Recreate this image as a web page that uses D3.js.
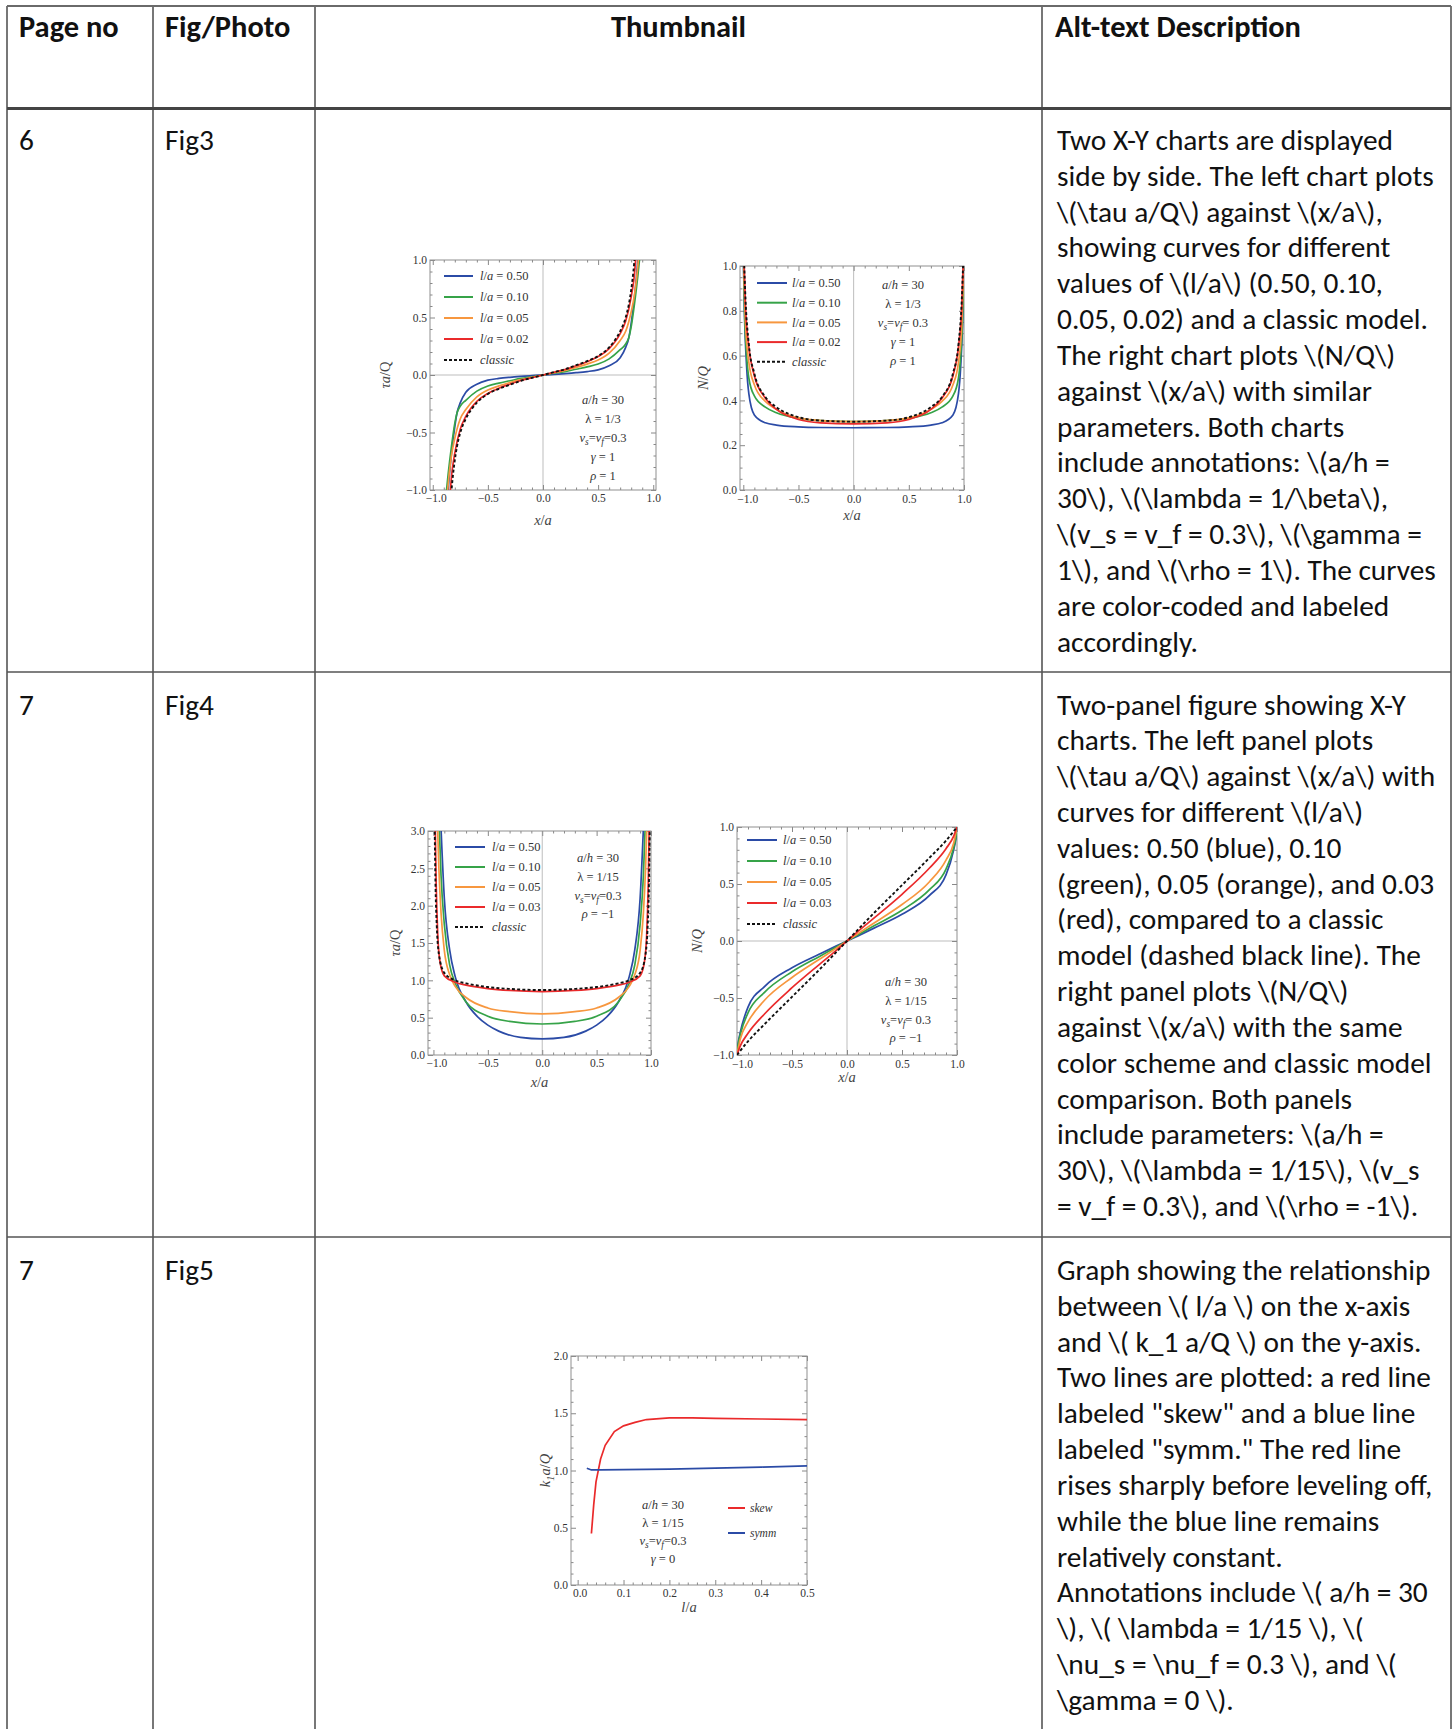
<!DOCTYPE html>
<html>
<head>
<meta charset="utf-8">
<script src="https://cdn.jsdelivr.net/npm/d3@7"></script>
<style>
  body { margin: 0; background: #fff; }
</style>
</head>
<body>
<script>
// ---- table text ----
const headers = ["Page no", "Fig/Photo", "Thumbnail", "Alt-text Description"];
const pageNos = ["6", "7", "7"];
const figNames = ["Fig3", "Fig4", "Fig5"];

const altFig3 = [
  "Two X-Y charts are displayed",
  "side by side. The left chart plots",
  "\\(\\tau a/Q\\) against \\(x/a\\),",
  "showing curves for different",
  "values of \\(l/a\\) (0.50, 0.10,",
  "0.05, 0.02) and a classic model.",
  "The right chart plots \\(N/Q\\)",
  "against \\(x/a\\) with similar",
  "parameters. Both charts",
  "include annotations: \\(a/h =",
  "30\\), \\(\\lambda = 1/\\beta\\),",
  "\\(v_s = v_f = 0.3\\), \\(\\gamma =",
  "1\\), and \\(\\rho = 1\\). The curves",
  "are color-coded and labeled",
  "accordingly."
];
const altFig4 = [
  "Two-panel figure showing X-Y",
  "charts. The left panel plots",
  "\\(\\tau a/Q\\) against \\(x/a\\) with",
  "curves for different \\(l/a\\)",
  "values: 0.50 (blue), 0.10",
  "(green), 0.05 (orange), and 0.03",
  "(red), compared to a classic",
  "model (dashed black line). The",
  "right panel plots \\(N/Q\\)",
  "against \\(x/a\\) with the same",
  "color scheme and classic model",
  "comparison. Both panels",
  "include parameters: \\(a/h =",
  "30\\), \\(\\lambda = 1/15\\), \\(v_s",
  "= v_f = 0.3\\), and \\(\\rho = -1\\)."
];
const altFig5 = [
  "Graph showing the relationship",
  "between \\( l/a \\) on the x-axis",
  "and \\( k_1 a/Q \\) on the y-axis.",
  "Two lines are plotted: a red line",
  "labeled \"skew\" and a blue line",
  "labeled \"symm.\" The red line",
  "rises sharply before leveling off,",
  "while the blue line remains",
  "relatively constant.",
  "Annotations include \\( a/h = 30",
  "\\), \\( \\lambda = 1/15 \\), \\(",
  "\\nu_s = \\nu_f = 0.3 \\), and \\(",
  "\\gamma = 0 \\)."
];

// ---- chart data ----
const fig3Values = ["0.50", "0.10", "0.05", "0.02"];
const fig4Values = ["0.50", "0.10", "0.05", "0.03"];
const seriesColors = ["#2b4ba6", "#36a348", "#f7973f", "#ea2a2b"];
const ticksPM1 = [-1, -0.5, 0, 0.5, 1];
const ticks0to1 = [0, 0.2, 0.4, 0.6, 0.8, 1];
const ticks0to3 = [0, 0.5, 1, 1.5, 2, 2.5, 3];
const ticksLa = [0, 0.1, 0.2, 0.3, 0.4, 0.5];
const ticks0to2 = [0, 0.5, 1, 1.5, 2];

// Fig3 left: tau a/Q vs x/a
const tau3L_050 = [[-0.87,-1.1],[-0.86,-1.0],[-0.85,-0.88],[-0.83,-0.68],[-0.8,-0.45],[-0.78,-0.33],[-0.75,-0.24],[-0.7,-0.15],[-0.6,-0.08],[-0.5,-0.045],[-0.4,-0.03],[-0.3,-0.02],[-0.2,-0.012],[-0.1,-0.005],[0,0],[0.1,0.005],[0.2,0.012],[0.3,0.02],[0.4,0.03],[0.5,0.045],[0.6,0.08],[0.7,0.15],[0.75,0.24],[0.78,0.33],[0.8,0.45],[0.83,0.68],[0.85,0.88],[0.86,1.0],[0.87,1.1]];
const tau3L_010 = [[-0.885,-1.1],[-0.875,-1.0],[-0.86,-0.86],[-0.83,-0.62],[-0.8,-0.42],[-0.78,-0.33],[-0.75,-0.27],[-0.7,-0.22],[-0.6,-0.14],[-0.5,-0.095],[-0.4,-0.07],[-0.3,-0.05],[-0.2,-0.03],[-0.1,-0.015],[0,0],[0.1,0.015],[0.2,0.03],[0.3,0.05],[0.4,0.07],[0.5,0.095],[0.6,0.14],[0.7,0.22],[0.75,0.27],[0.78,0.33],[0.8,0.42],[0.83,0.62],[0.86,0.86],[0.875,1.0],[0.885,1.1]];
const tau3L_005 = [[-0.875,-1.1],[-0.865,-1.0],[-0.85,-0.85],[-0.83,-0.7],[-0.8,-0.55],[-0.75,-0.38],[-0.7,-0.3],[-0.6,-0.19],[-0.5,-0.13],[-0.4,-0.095],[-0.3,-0.065],[-0.2,-0.04],[-0.1,-0.02],[0,0],[0.1,0.02],[0.2,0.04],[0.3,0.065],[0.4,0.095],[0.5,0.13],[0.6,0.19],[0.7,0.3],[0.75,0.38],[0.8,0.55],[0.83,0.7],[0.85,0.85],[0.865,1.0],[0.875,1.1]];
const tau3L_002 = [[-0.85,-1.1],[-0.84,-1.0],[-0.83,-0.88],[-0.8,-0.68],[-0.75,-0.47],[-0.7,-0.36],[-0.6,-0.23],[-0.5,-0.16],[-0.4,-0.115],[-0.3,-0.08],[-0.2,-0.048],[-0.1,-0.024],[0,0],[0.1,0.024],[0.2,0.048],[0.3,0.08],[0.4,0.115],[0.5,0.16],[0.6,0.23],[0.7,0.36],[0.75,0.47],[0.8,0.68],[0.83,0.88],[0.84,1.0],[0.85,1.1]];
const tau3L_classic = [[-0.845,-1.12],[-0.83,-1.0],[-0.82,-0.9],[-0.8,-0.74],[-0.78,-0.62],[-0.75,-0.5],[-0.7,-0.38],[-0.65,-0.3],[-0.6,-0.24],[-0.5,-0.165],[-0.4,-0.12],[-0.3,-0.085],[-0.2,-0.05],[-0.1,-0.025],[0,0],[0.1,0.025],[0.2,0.05],[0.3,0.085],[0.4,0.12],[0.5,0.165],[0.6,0.24],[0.65,0.3],[0.7,0.38],[0.75,0.5],[0.78,0.62],[0.8,0.74],[0.82,0.9],[0.83,1.0],[0.845,1.12]];

// Fig3 right: N/Q vs x/a
const N3R_050 = [[-0.998,1.0],[-0.99,0.8],[-0.97,0.55],[-0.95,0.43],[-0.9,0.335],[-0.8,0.3],[-0.7,0.29],[-0.5,0.282],[-0.3,0.279],[0,0.278],[0.3,0.279],[0.5,0.282],[0.7,0.29],[0.8,0.3],[0.9,0.335],[0.95,0.43],[0.97,0.55],[0.99,0.8],[0.998,1.0]];
const N3R_010 = [[-0.997,1.0],[-0.99,0.82],[-0.97,0.6],[-0.95,0.5],[-0.9,0.42],[-0.8,0.37],[-0.7,0.345],[-0.5,0.32],[-0.3,0.31],[0,0.305],[0.3,0.31],[0.5,0.32],[0.7,0.345],[0.8,0.37],[0.9,0.42],[0.95,0.5],[0.97,0.6],[0.99,0.82],[0.997,1.0]];
const N3R_005 = [[-0.996,1.02],[-0.98,0.74],[-0.95,0.57],[-0.9,0.47],[-0.8,0.395],[-0.7,0.36],[-0.5,0.322],[-0.3,0.31],[0,0.305],[0.3,0.31],[0.5,0.322],[0.7,0.36],[0.8,0.395],[0.9,0.47],[0.95,0.57],[0.98,0.74],[0.996,1.02]];
const N3R_002 = [[-0.995,1.05],[-0.98,0.82],[-0.95,0.64],[-0.9,0.51],[-0.8,0.41],[-0.7,0.36],[-0.5,0.315],[-0.3,0.3],[0,0.295],[0.3,0.3],[0.5,0.315],[0.7,0.36],[0.8,0.41],[0.9,0.51],[0.95,0.64],[0.98,0.82],[0.995,1.05]];
const N3R_classic = [[-0.995,1.05],[-0.98,0.85],[-0.95,0.65],[-0.9,0.52],[-0.8,0.415],[-0.7,0.37],[-0.5,0.325],[-0.3,0.31],[0,0.305],[0.3,0.31],[0.5,0.325],[0.7,0.37],[0.8,0.415],[0.9,0.52],[0.95,0.65],[0.98,0.85],[0.995,1.05]];

// Fig4 left: tau a/Q vs x/a
const tau4L_050 = [[-0.935,3.2],[-0.9,2.1],[-0.85,1.4],[-0.8,1.05],[-0.7,0.71],[-0.6,0.52],[-0.5,0.4],[-0.4,0.32],[-0.2,0.235],[0,0.215],[0.2,0.235],[0.4,0.32],[0.5,0.4],[0.6,0.52],[0.7,0.71],[0.8,1.05],[0.85,1.4],[0.9,2.1],[0.935,3.2]];
const tau4L_010 = [[-0.95,3.2],[-0.93,2.4],[-0.9,1.75],[-0.85,1.2],[-0.8,0.96],[-0.7,0.71],[-0.5,0.52],[-0.3,0.45],[0,0.415],[0.3,0.45],[0.5,0.52],[0.7,0.71],[0.8,0.96],[0.85,1.2],[0.9,1.75],[0.93,2.4],[0.95,3.2]];
const tau4L_005 = [[-0.965,3.2],[-0.95,2.5],[-0.93,1.9],[-0.9,1.4],[-0.85,1.07],[-0.8,0.92],[-0.7,0.77],[-0.5,0.63],[-0.3,0.58],[0,0.55],[0.3,0.58],[0.5,0.63],[0.7,0.77],[0.8,0.92],[0.85,1.07],[0.9,1.4],[0.93,1.9],[0.95,2.5],[0.965,3.2]];
const tau4L_003 = [[-0.985,3.2],[-0.975,2.3],[-0.96,1.6],[-0.94,1.25],[-0.9,1.06],[-0.8,0.975],[-0.7,0.935],[-0.5,0.89],[-0.3,0.865],[0,0.85],[0.3,0.865],[0.5,0.89],[0.7,0.935],[0.8,0.975],[0.9,1.06],[0.94,1.25],[0.96,1.6],[0.975,2.3],[0.985,3.2]];
const tau4L_classic = [[-0.99,3.2],[-0.98,2.2],[-0.97,1.75],[-0.95,1.35],[-0.9,1.1],[-0.8,1.0],[-0.7,0.96],[-0.5,0.91],[-0.3,0.885],[0,0.87],[0.3,0.885],[0.5,0.91],[0.7,0.96],[0.8,1.0],[0.9,1.1],[0.95,1.35],[0.97,1.75],[0.98,2.2],[0.99,3.2]];

// Fig4 right: N/Q vs x/a
const N4R_050 = [[-1,-0.99],[-0.99,-0.9],[-0.97,-0.8],[-0.9,-0.58],[-0.75,-0.4],[-0.5,-0.235],[-0.25,-0.115],[-0.1,-0.045],[0,0],[0.1,0.045],[0.25,0.115],[0.5,0.235],[0.75,0.4],[0.9,0.58],[0.97,0.8],[0.99,0.9],[1,0.99]];
const N4R_010 = [[-1,-0.99],[-0.99,-0.91],[-0.97,-0.82],[-0.9,-0.63],[-0.75,-0.45],[-0.5,-0.27],[-0.25,-0.135],[-0.1,-0.055],[0,0],[0.1,0.055],[0.25,0.135],[0.5,0.27],[0.75,0.45],[0.9,0.63],[0.97,0.82],[0.99,0.91],[1,0.99]];
const N4R_005 = [[-1,-1],[-0.97,-0.86],[-0.9,-0.71],[-0.75,-0.52],[-0.5,-0.32],[-0.25,-0.16],[-0.1,-0.065],[0,0],[0.1,0.065],[0.25,0.16],[0.5,0.32],[0.75,0.52],[0.9,0.71],[0.97,0.86],[1,1]];
const N4R_003 = [[-1,-1],[-0.97,-0.92],[-0.9,-0.81],[-0.75,-0.64],[-0.5,-0.41],[-0.25,-0.205],[-0.1,-0.085],[0,0],[0.1,0.085],[0.25,0.205],[0.5,0.41],[0.75,0.64],[0.9,0.81],[0.97,0.92],[1,1]];
const N4R_classic = [[-1,-1],[-0.9,-0.88],[-0.75,-0.73],[-0.5,-0.49],[-0.25,-0.25],[0,0],[0.25,0.25],[0.5,0.49],[0.75,0.73],[0.9,0.88],[1,1]];

// Fig5: k1 a/Q vs l/a
const k5_skew = [[0.03,0.45],[0.035,0.7],[0.04,0.9],[0.05,1.1],[0.06,1.22],[0.08,1.34],[0.1,1.39],[0.125,1.42],[0.15,1.445],[0.2,1.46],[0.25,1.46],[0.3,1.455],[0.4,1.45],[0.5,1.445]];
const k5_symm = [[0.02,1.02],[0.03,1.005],[0.05,1.005],[0.1,1.007],[0.2,1.012],[0.3,1.02],[0.4,1.03],[0.5,1.04]];

// ---- page ----
const W = 1455, H = 1729;
const bodyFont = "Carlito, Calibri, Lato, sans-serif";
const serif = "'Liberation Serif', 'Times New Roman', serif";
const tickSize = 11.5, legendSize = 12.5, noteSize = 12.5, labelSize = 14.5;
const svg = d3.select("body").append("svg").attr("width", W).attr("height", H);

function fitSize(text, weight, target) {
  const t = svg.append("text").attr("font-family", bodyFont)
    .attr("font-weight", weight).attr("font-size", 100).text(text);
  const w = t.node().getComputedTextLength();
  t.remove();
  return 100 * target / w;
}
const bodySize = fitSize(altFig3[1], "normal", 377);
const headSize = fitSize(headers[3], "bold", 246);

// table grid
const colX = [7, 153, 315, 1042, 1451];
const rowY = [6, 108.5, 672, 1237];
const grid = svg.append("g").attr("stroke", "#555").attr("fill", "none");
colX.forEach(x => grid.append("line").attr("x1", x).attr("x2", x).attr("y1", rowY[0]).attr("y2", H).attr("stroke-width", 1.6));
grid.append("line").attr("x1", colX[0]).attr("x2", colX[4]).attr("y1", rowY[0]).attr("y2", rowY[0]).attr("stroke-width", 2).attr("stroke", "#6a6a6a");
grid.append("line").attr("x1", colX[0]).attr("x2", colX[4]).attr("y1", rowY[1]).attr("y2", rowY[1]).attr("stroke-width", 3.2).attr("stroke", "#444");
[rowY[2], rowY[3]].forEach(y => grid.append("line").attr("x1", colX[0]).attr("x2", colX[4]).attr("y1", y).attr("y2", y).attr("stroke-width", 1.6));

// header
const head = svg.append("g").attr("font-family", bodyFont).attr("font-weight", "bold")
  .attr("font-size", headSize).attr("fill", "#111");
head.append("text").attr("x", 19).attr("y", 37).text(headers[0]);
head.append("text").attr("x", 165).attr("y", 37).text(headers[1]);
head.append("text").attr("x", (colX[2] + colX[3]) / 2).attr("y", 37).attr("text-anchor", "middle").text(headers[2]);
head.append("text").attr("x", 1055).attr("y", 37).text(headers[3]);

// body rows
const rowBase = [150, 714.5, 1280];
const lineGap = 35.83;
const body = svg.append("g").attr("font-family", bodyFont).attr("font-size", bodySize).attr("fill", "#111");
[altFig3, altFig4, altFig5].forEach((lines, i) => {
  body.append("text").attr("x", 19).attr("y", rowBase[i]).text(pageNos[i]);
  body.append("text").attr("x", 165).attr("y", rowBase[i]).text(figNames[i]);
  body.selectAll(null).data(lines).enter().append("text")
    .attr("x", 1057).attr("y", (d, j) => rowBase[i] + j * lineGap).text(d => d);
});

// rich text: segments of [text, style] with style "i", "sub", or ""
function rich(sel, segs, size) {
  let prevSub = false;
  segs.forEach(([t, s]) => {
    const ts = sel.append("tspan").text(t);
    if (s === "i" || s === "sub") ts.attr("font-style", "italic");
    if (s === "sub") ts.attr("font-size", size * 0.75).attr("dy", size * 0.25);
    else if (prevSub) ts.attr("dy", -size * 0.25);
    prevSub = s === "sub";
  });
}

function drawPanel(p) {
  const g = svg.append("g");
  const x = d3.scaleLinear().domain(p.xDom).range([p.x, p.x + p.w]);
  const y = d3.scaleLinear().domain(p.yDom).range([p.y + p.h, p.y]);
  const clipId = "clip-" + p.id;
  g.append("clipPath").attr("id", clipId).append("rect")
    .attr("x", p.x).attr("y", p.y).attr("width", p.w).attr("height", p.h);

  if (p.zeroX) g.append("line").attr("x1", x(0)).attr("x2", x(0)).attr("y1", p.y).attr("y2", p.y + p.h)
    .attr("stroke", "#bdbdbd").attr("stroke-width", 1);
  if (p.zeroY) g.append("line").attr("x1", p.x).attr("x2", p.x + p.w).attr("y1", y(0)).attr("y2", y(0))
    .attr("stroke", "#bdbdbd").attr("stroke-width", 1);

  const fmt = d3.format(".1f");
  const minorOf = (ticks, step, dom) => d3.range(ticks[0], ticks[ticks.length - 1] + step / 2, step)
    .filter(v => v >= dom[0] - 1e-9 && v <= dom[1] + 1e-9 && !ticks.some(t => Math.abs(t - v) < 1e-9));
  const xMinor = minorOf(p.xTicks, p.xStep, p.xDom);
  const yMinor = minorOf(p.yTicks, p.yStep, p.yDom);
  const sides = [
    [() => d3.axisBottom(x), `translate(0,${p.y + p.h})`, p.xTicks, xMinor, true, p.xPad, "b"],
    [() => d3.axisTop(x), `translate(0,${p.y})`, p.xTicks, xMinor, false, 0, "t"],
    [() => d3.axisLeft(y), `translate(${p.x},0)`, p.yTicks, yMinor, true, p.yPad, "l"],
    [() => d3.axisRight(y), `translate(${p.x + p.w},0)`, p.yTicks, yMinor, false, 0, "r"]
  ];
  sides.forEach(([mk, tr, major, minor, labels, pad, side]) => {
    const gm = g.append("g").attr("transform", tr)
      .call(mk().tickValues(minor).tickSizeInner(-2.5).tickSizeOuter(0).tickFormat(""));
    gm.select(".domain").remove();
    gm.selectAll("line").attr("stroke", "#888");
    const ga = g.append("g").attr("transform", tr)
      .call(mk().tickValues(major).tickSizeInner(-5).tickSizeOuter(0).tickPadding(pad)
        .tickFormat(labels ? fmt : ""));
    ga.select(".domain").remove();
    ga.selectAll("line").attr("stroke", "#888");
    ga.attr("font-family", serif).attr("font-size", tickSize);
    ga.selectAll("text").attr("fill", "#333");
    // keep the corner labels of the two axes apart
    if (side === "b" && p.cornerDx) ga.selectAll("text").filter(d => d === major[0]).attr("dx", p.cornerDx);
  });
  g.append("rect").attr("x", p.x).attr("y", p.y).attr("width", p.w).attr("height", p.h)
    .attr("fill", "none").attr("stroke", "#8f8f8f").attr("stroke-width", 1);

  const line = d3.line().x(d => x(d[0])).y(d => y(d[1])).curve(p.curve || d3.curveMonotoneX);
  const curves = g.append("g").attr("clip-path", `url(#${clipId})`);
  p.series.forEach(s => {
    curves.append("path").datum(s.data).attr("d", line).attr("fill", "none")
      .attr("stroke", s.color).attr("stroke-width", s.dash ? 1.9 : 1.7)
      .attr("stroke-dasharray", s.dash ? "3,2.2" : null);
  });

  // legend
  const ls = p.legend.size || legendSize;
  const lg = g.append("g").attr("font-family", serif).attr("font-size", ls).attr("fill", "#333");
  p.legend.items.forEach((it, i) => {
    const yy = p.legend.y + i * p.legend.dy;
    lg.append("line").attr("x1", p.legend.x1).attr("x2", p.legend.x2).attr("y1", yy).attr("y2", yy)
      .attr("stroke", it.color).attr("stroke-width", 2)
      .attr("stroke-dasharray", it.dash ? "3,2" : null);
    const t = lg.append("text").attr("x", p.legend.tx).attr("y", yy).attr("dy", "0.35em");
    rich(t, it.label, ls);
  });

  // annotation
  const ng = g.append("g").attr("font-family", serif).attr("font-size", noteSize).attr("fill", "#333")
    .attr("text-anchor", "middle");
  p.notes.lines.forEach((segs, i) => {
    const t = ng.append("text").attr("x", p.notes.x).attr("y", p.notes.y + i * p.notes.dy).attr("dy", "0.35em");
    rich(t, segs, noteSize);
  });

  // axis labels
  const xl = g.append("text").attr("x", p.x + p.w / 2).attr("y", p.xLabelY).attr("dy", "0.35em")
    .attr("text-anchor", "middle").attr("font-family", serif).attr("font-size", labelSize).attr("fill", "#444");
  rich(xl, p.xLabel, labelSize);
  const yl = g.append("text").attr("transform", `translate(${p.yLabelX},${p.y + p.h / 2}) rotate(-90)`)
    .attr("dy", "0.35em").attr("text-anchor", "middle").attr("font-family", serif)
    .attr("font-size", labelSize).attr("fill", "#444");
  rich(yl, p.yLabel, labelSize);
}

const laLabel = v => [["l", "i"], ["/", ""], ["a", "i"], [" = " + v, ""]];
const classicLabel = [["classic", "i"]];
const legendItems = vals => vals.map((v, i) => ({ label: laLabel(v), color: seriesColors[i] }))
  .concat([{ label: classicLabel, color: "#111", dash: true }]);
const seriesOf = (arrs, classic) => arrs.map((d, i) => ({ data: d, color: seriesColors[i] }))
  .concat([{ data: classic, color: "#111", dash: true }]);
const ahLine = [["a", "i"], ["/", ""], ["h", "i"], [" = 30", ""]];
const nuLine = sp => [["ν", "i"], ["s", "sub"], ["=", ""], ["ν", "i"], ["f", "sub"], [sp + "0.3", ""]];
const xaLabel = [["x", "i"], ["/", ""], ["a", "i"]];

drawPanel({
  id: "f3l", x: 430, y: 260, w: 226, h: 230, xDom: [-1.025, 1.025], yDom: [-1, 1],
  xTicks: ticksPM1, xStep: 0.1, yTicks: ticksPM1, yStep: 0.1, xPad: 4, yPad: 3, cornerDx: 3,
  zeroX: true, zeroY: true,
  series: seriesOf([tau3L_050, tau3L_010, tau3L_005, tau3L_002], tau3L_classic),
  legend: { x1: 444, x2: 473, tx: 480, y: 276, dy: 21, items: legendItems(fig3Values) },
  notes: { x: 603, y: 400, dy: 18.8, lines: [ahLine, [["λ = 1/3", ""]], nuLine("="), [["γ", "i"], [" = 1", ""]], [["ρ", "i"], [" = 1", ""]]] },
  xLabel: xaLabel, xLabelY: 520, yLabel: [["τa", "i"], ["/", ""], ["Q", ""]], yLabelX: 385
});

drawPanel({
  id: "f3r", x: 740, y: 266, w: 224, h: 224, xDom: [-1.03, 1.0], yDom: [0, 1],
  xTicks: ticksPM1, xStep: 0.1, yTicks: ticks0to1, yStep: 0.05, xPad: 5, yPad: 3, cornerDx: 4,
  zeroX: true, zeroY: false,
  series: seriesOf([N3R_050, N3R_010, N3R_005, N3R_002], N3R_classic),
  legend: { x1: 757, x2: 787, tx: 792, y: 283, dy: 19.7, items: legendItems(fig3Values) },
  notes: { x: 903, y: 285, dy: 18.8, lines: [ahLine, [["λ = 1/3", ""]], nuLine("= "), [["γ", "i"], [" = 1", ""]], [["ρ", "i"], [" = 1", ""]]] },
  xLabel: xaLabel, xLabelY: 515, yLabel: [["N", "i"], ["/", ""], ["Q", "i"]], yLabelX: 703
});

drawPanel({
  id: "f4l", x: 428, y: 831, w: 223, h: 224, xDom: [-1.05, 1.0], yDom: [0, 3],
  xTicks: ticksPM1, xStep: 0.1, yTicks: ticks0to3, yStep: 0.1, xPad: 4, yPad: 3, cornerDx: 3,
  zeroX: true, zeroY: false,
  series: seriesOf([tau4L_050, tau4L_010, tau4L_005, tau4L_003], tau4L_classic),
  legend: { x1: 455, x2: 485, tx: 492, y: 847, dy: 20, items: legendItems(fig4Values) },
  notes: { x: 598, y: 858, dy: 18.7, lines: [ahLine, [["λ = 1/15", ""]], nuLine("="), [["ρ", "i"], [" = −1", ""]]] },
  xLabel: xaLabel, xLabelY: 1082, yLabel: [["τa", "i"], ["/", ""], ["Q", ""]], yLabelX: 395
});

drawPanel({
  id: "f4r", x: 737, y: 827, w: 220, h: 228, xDom: [-1, 1], yDom: [-1, 1],
  xTicks: ticksPM1, xStep: 0.1, yTicks: ticksPM1, yStep: 0.1, xPad: 5, yPad: 3, cornerDx: 5,
  zeroX: true, zeroY: true,
  series: seriesOf([N4R_050, N4R_010, N4R_005, N4R_003], N4R_classic),
  legend: { x1: 747, x2: 777, tx: 783, y: 840, dy: 21, items: legendItems(fig4Values) },
  notes: { x: 906, y: 982, dy: 18.7, lines: [ahLine, [["λ = 1/15", ""]], nuLine("= "), [["ρ", "i"], [" = −1", ""]]] },
  xLabel: xaLabel, xLabelY: 1077, yLabel: [["N", "i"], ["/", ""], ["Q", "i"]], yLabelX: 697
});

drawPanel({
  id: "f5", x: 571, y: 1356, w: 236, h: 229, xDom: [-0.0145, 0.5], yDom: [0, 2],
  xTicks: ticksLa, xStep: 0.02, yTicks: ticks0to2, yStep: 0.1, xPad: 4, yPad: 3, cornerDx: 2,
  zeroX: false, zeroY: false, curve: d3.curveLinear,
  series: [{ data: k5_skew, color: seriesColors[3] }, { data: k5_symm, color: seriesColors[0] }],
  legend: { x1: 728, x2: 745, tx: 750, y: 1508, dy: 25, size: 11.5,
    items: [{ label: [["skew", "i"]], color: seriesColors[3] }, { label: [["symm", "i"]], color: seriesColors[0] }] },
  notes: { x: 663, y: 1505, dy: 17.8, lines: [ahLine, [["λ = 1/15", ""]], nuLine("="), [["γ", "i"], [" = 0", ""]]] },
  xLabel: [["l", "i"], ["/", ""], ["a", "i"]], xLabelY: 1607,
  yLabel: [["k", "i"], ["1", "sub"], ["a", "i"], ["/", ""], ["Q", "i"]], yLabelX: 545
});
</script>
</body>
</html>
